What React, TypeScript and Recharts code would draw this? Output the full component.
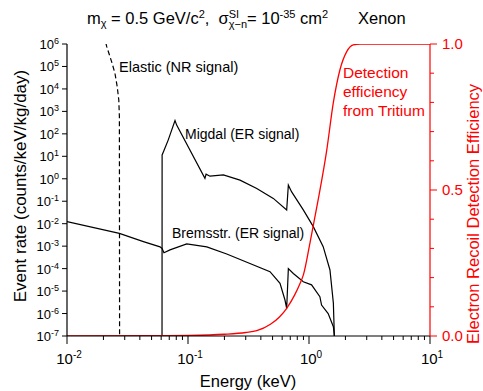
import { ComposedChart, Line, XAxis, YAxis } from "recharts";

// energies in keV, rates in counts/keV/kg/day
const elasticE = [0.0202, 0.0213, 0.0234, 0.0249, 0.026, 0.0268, 0.0271, 0.0272];
const elasticRate = [2.5e6, 7.6e5, 1.6e5, 5.0e4, 1.26e4, 3.2e3, 5.8e2, 1e-7];

const migdalE = [0.061, 0.0611, 0.0633, 0.0687, 0.0781, 0.0806, 0.138, 0.141, 0.152, 0.196, 0.269, 0.37, 0.507, 0.654, 0.675, 0.719, 0.897, 1.085, 1.31, 1.49, 1.59, 1.62];
const migdalRate = [1e-7, 11.5, 18, 54, 390, 245, 1.05, 1.6, 1.3, 1.5, 0.87, 0.37, 0.134, 0.041, 0.52, 0.26, 0.041, 0.0074, 9.5e-4, 8.7e-5, 2.9e-6, 1e-7];

const bremsE = [0.01, 0.0271, 0.0428, 0.0587, 0.061, 0.0633, 0.071, 0.0976, 0.143, 0.209, 0.325, 0.476, 0.576, 0.633, 0.654, 0.675, 0.742, 0.897, 1.05, 1.23, 1.27, 1.44, 1.59, 1.62];
const bremsRate = [0.0123, 0.0037, 1.6e-3, 9.3e-4, 7.9e-4, 5.1e-4, 6.8e-4, 1.26e-3, 9.3e-4, 4.5e-4, 1.7e-4, 7.3e-5, 2.2e-5, 4e-6, 1.7e-6, 1.0e-4, 6.1e-5, 2.6e-5, 1.9e-5, 5.6e-6, 2.4e-6, 1.0e-6, 2.6e-7, 1e-7];

const effE = [0.01, 0.05, 0.1, 0.2, 0.3, 0.37, 0.48, 0.57, 0.654, 0.76, 0.843, 0.9, 1.02, 1.19, 1.4, 1.59, 1.8, 2.05, 2.32, 2.65, 4, 10];
const effValue = [0, 0.001, 0.002, 0.006, 0.012, 0.018, 0.04, 0.065, 0.095, 0.14, 0.18, 0.21, 0.32, 0.466, 0.635, 0.8, 0.911, 0.974, 0.997, 1, 1, 1];

const energyTicks = [0.01, 0.02, 0.03, 0.04, 0.05, 0.06, 0.07, 0.08, 0.09, 0.1, 0.2, 0.3, 0.4, 0.5, 0.6, 0.7, 0.8, 0.9, 1, 2, 3, 4, 5, 6, 7, 8, 9, 10];
const rateTicks = [1e-7, 1e-6, 1e-5, 1e-4, 1e-3, 1e-2, 1e-1, 1, 1e1, 1e2, 1e3, 1e4, 1e5, 1e6];
const effTicks = [0, 0.1, 0.2, 0.3, 0.4, 0.5, 0.6, 0.7, 0.8, 0.9, 1];
const effLabels = ["0.0", "0.5", "1.0"];

const zip = (xs: number[], ys: number[]) => xs.map((x, i) => ({ x, y: ys[i] }));
const elastic = zip(elasticE, elasticRate);
const migdal = zip(migdalE, migdalRate);
const brems = zip(bremsE, bremsRate);
const eff = zip(effE, effValue);

const FONT = "'Liberation Sans', Arial, sans-serif";
const RED = "#ff0000";

const expOf = (v: number) => Math.round(Math.log10(v));
const isDecade = (v: number) => Math.abs(Math.log10(v) - expOf(v)) < 1e-6;

const BottomTick = (props: any) => {
  const { x, y, payload } = props;
  const major = isDecade(payload.value);
  return (
    <g>
      <line x1={x} x2={x} y1={y} y2={y + (major ? 8 : 4)} stroke="#000" />
      {major && (
        <text x={x + 2} y={y + 28} textAnchor="middle" fontSize={15} fontFamily={FONT} fill="#000">
          10<tspan dy={-6} fontSize={10}>{expOf(payload.value)}</tspan>
        </text>
      )}
    </g>
  );
};

const TopTick = (props: any) => {
  const { x, y, payload } = props;
  const major = isDecade(payload.value);
  return <line x1={x} x2={x} y1={y} y2={y - (major ? 8 : 4)} stroke="#000" />;
};

const LeftTick = (props: any) => {
  const { x, y, payload } = props;
  return (
    <g>
      <line x1={x} x2={x - 5} y1={y} y2={y} stroke="#000" />
      <text x={x - 8} y={y + 5} textAnchor="end" fontSize={13} fontFamily={FONT} fill="#000">
        10<tspan dy={-5} fontSize={9}>{expOf(payload.value)}</tspan>
      </text>
    </g>
  );
};

const RightTick = (props: any) => {
  const { x, y, payload, index } = props;
  const major = index % 5 === 0;
  return (
    <g>
      <line x1={x} x2={x + (major ? 7 : 4)} y1={y} y2={y} stroke={RED} />
      {major && (
        <text x={x + 12} y={y + 5} fontSize={15} fontFamily={FONT} fill={RED}>
          {effLabels[index / 5]}
        </text>
      )}
    </g>
  );
};

export default function App() {
  return (
    <div style={{ position: "relative", width: 483, height: 391, background: "#fff" }}>
      <style>{`body{margin:0}`}</style>
      <ComposedChart width={483} height={391} margin={{ top: 44, right: 0, bottom: 0, left: 0 }}>
        <XAxis
          dataKey="x"
          type="number"
          scale="log"
          domain={[0.01, 10]}
          ticks={energyTicks}
          interval={0}
          allowDataOverflow
          height={55}
          tickSize={0}
          tickMargin={0}
          tick={<BottomTick />}
          tickLine={false}
          axisLine={{ stroke: "#000", strokeWidth: 1.2 }}
        />
        <XAxis
          xAxisId="top"
          orientation="top"
          dataKey="x"
          type="number"
          scale="log"
          domain={[0.01, 10]}
          ticks={energyTicks}
          interval={0}
          allowDataOverflow
          height={0}
          tickSize={0}
          tickMargin={0}
          tick={<TopTick />}
          tickLine={false}
          axisLine={{ stroke: "#000", strokeWidth: 1.2 }}
        />
        <YAxis
          yAxisId="rate"
          type="number"
          scale="log"
          domain={[1e-7, 1e6]}
          ticks={rateTicks}
          interval={0}
          allowDataOverflow
          width={67}
          tickSize={0}
          tickMargin={0}
          tick={<LeftTick />}
          tickLine={false}
          axisLine={{ stroke: "#000", strokeWidth: 1.2 }}
        />
        <YAxis
          yAxisId="eff"
          orientation="right"
          type="number"
          domain={[0, 1]}
          ticks={effTicks}
          interval={0}
          allowDataOverflow
          width={53}
          tickSize={0}
          tickMargin={0}
          tick={<RightTick />}
          tickLine={false}
          axisLine={{ stroke: RED, strokeWidth: 1.2 }}
        />
        <Line yAxisId="rate" data={elastic} dataKey="y" type="linear" stroke="#000" strokeWidth={1.2} strokeDasharray="5 3" dot={false} isAnimationActive={false} />
        <Line yAxisId="rate" data={migdal} dataKey="y" type="linear" stroke="#000" strokeWidth={1.2} dot={false} isAnimationActive={false} />
        <Line yAxisId="rate" data={brems} dataKey="y" type="linear" stroke="#000" strokeWidth={1.2} dot={false} isAnimationActive={false} />
        <Line yAxisId="eff" data={eff} dataKey="y" type="monotone" stroke={RED} strokeWidth={1.3} dot={false} isAnimationActive={false} />
      </ComposedChart>
      <svg width={483} height={391} style={{ position: "absolute", left: 0, top: 0, pointerEvents: "none" }} fontFamily={FONT}>
        <text x={87} y={24} fontSize={16.5} fill="#000" style={{ whiteSpace: "pre" }}>
          m<tspan dy={3} fontSize={11}>χ</tspan>
          <tspan dy={-3}> = 0.5 GeV/c</tspan>
          <tspan dy={-6} fontSize={11}>2</tspan>
          <tspan dy={6}>,  σ</tspan>
          <tspan dy={-6} fontSize={11}>SI</tspan>
          <tspan dx={-10.5} dy={10} fontSize={11}>χ−n</tspan>
          <tspan dy={-4}>= 10</tspan>
          <tspan dy={-6} fontSize={11}>-35</tspan>
          <tspan dy={6}> cm</tspan>
          <tspan dy={-6} fontSize={11}>2</tspan>
        </text>
        <text x={358} y={24} fontSize={16.5} fill="#000">Xenon</text>
        <text x={119} y={72} fontSize={14.5} fill="#000">Elastic (NR signal)</text>
        <text x={185} y={139} fontSize={14} fill="#000">Migdal (ER signal)</text>
        <text x={172} y={238} fontSize={14} fill="#000">Bremsstr. (ER signal)</text>
        <text x={343} y={78} fontSize={15.5} fill={RED}>Detection</text>
        <text x={343} y={97} fontSize={15.5} fill={RED}>efficiency</text>
        <text x={343} y={116} fontSize={15.5} fill={RED}>from Tritium</text>
        <text x={248} y={387} fontSize={16.5} textAnchor="middle" fill="#000">Energy (keV)</text>
        <text transform="translate(26,186) rotate(-90)" fontSize={17} textAnchor="middle" fill="#000">Event rate (counts/keV/kg/day)</text>
        <text transform="translate(479,214) rotate(-90)" fontSize={16.5} textAnchor="middle" fill={RED}>Electron Recoil Detection Efficiency</text>
      </svg>
    </div>
  );
}
